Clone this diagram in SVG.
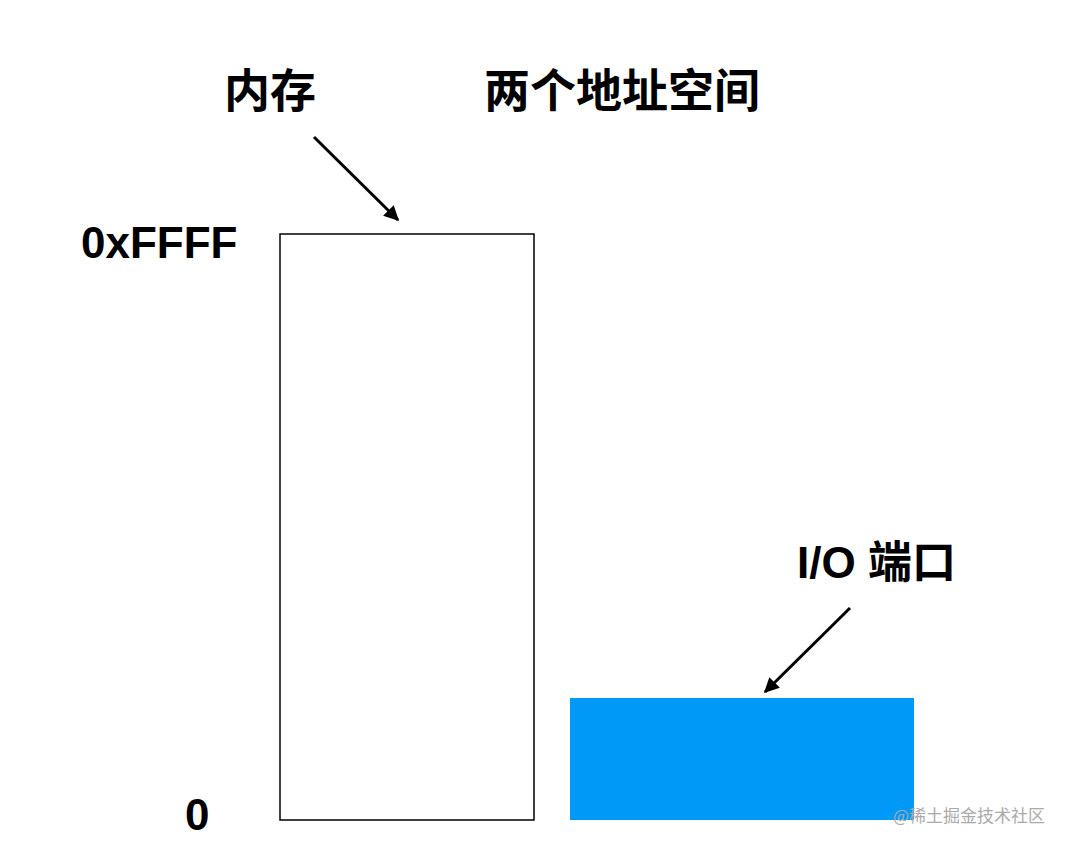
<svg xmlns="http://www.w3.org/2000/svg" width="1080" height="849" viewBox="0 0 1080 849">
<style>
.t{font-family:"Liberation Sans","Noto Sans CJK SC",sans-serif;font-weight:bold;fill:#000}
.c{stroke:#000;stroke-width:3;fill:none}
</style>
<defs><marker id="ah" viewBox="0 0 10 10" refX="9" refY="5" markerWidth="5" markerHeight="5" orient="auto"><path d="M0,0L10,5L0,10z" fill="#000"/></marker></defs>
<rect width="1080" height="849" fill="#fff"/>
<g id="title"><text class="t" x="484" y="107" font-size="46">两个地址空间</text></g>
<g id="memory"><rect x="280" y="234" width="254" height="586" fill="#fff" stroke="#000" stroke-width="1.5"/>
<text class="t" x="224" y="107" font-size="46">内存</text></g>
<g id="labels"><text class="t" x="81" y="258" font-size="44">0xFFFF</text>
<text class="t" x="185" y="830" font-size="44">0</text></g>
<g id="io"><rect x="570" y="698" width="344" height="122" fill="#0099f7"/>
<text class="t" x="797" y="578" font-size="44">I/O 端口</text></g>
<g id="connectors">
<line class="c" x1="314" y1="137" x2="398" y2="220" marker-end="url(#ah)"/>
<line class="c" x1="850" y1="608" x2="765" y2="692" marker-end="url(#ah)"/>
</g>
<text x="893" y="822" font-size="17" fill="#aaa" font-family="'Noto Sans CJK SC',sans-serif">@稀土掘金技术社区</text>
</svg>
